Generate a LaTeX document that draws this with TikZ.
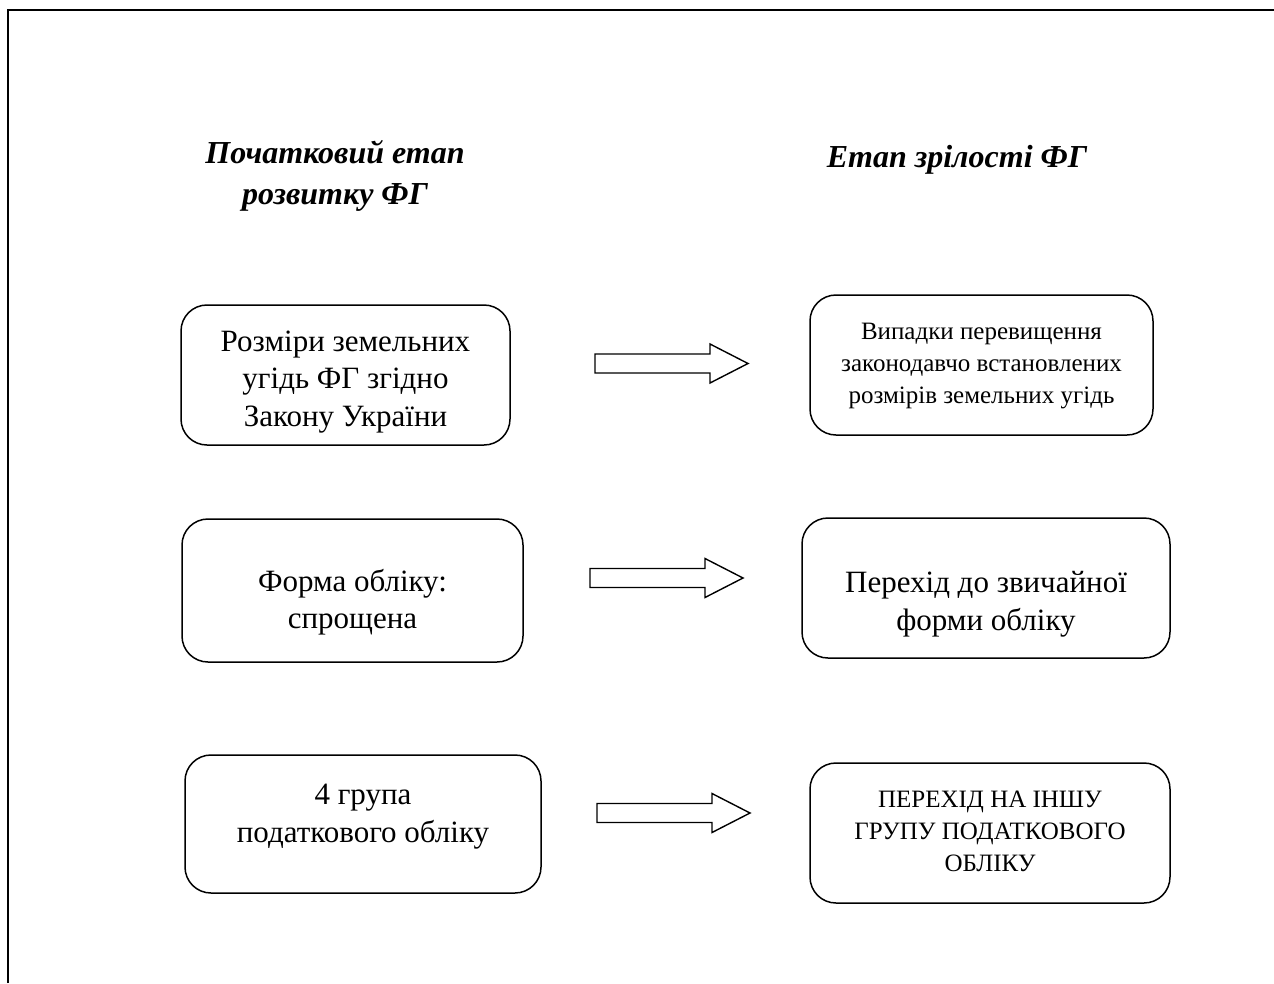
\documentclass[tikz,border=0pt]{standalone}
\usepackage{fontspec}
\setmainfont{Liberation Serif}
% text block set lower or higher inside its box
\newcommand{\boxtext}[2]{\raisebox{-#1}[\height][\depth]{\begin{tabular}{@{}c@{}}#2\end{tabular}}}
\begin{document}
\begin{tikzpicture}[x=1pt,y=-1pt]

      \tikzset{stage/.style={draw, line width=1.5pt, rounded corners=26pt, inner sep=0pt},
               bigtext/.style={font=\fontsize{31}{37.5}\selectfont},
               smalltext/.style={font=\fontsize{25}{32}\selectfont},
               heading/.style={align=center, font=\fontsize{32}{41}\selectfont\bfseries\itshape},
               blockarrow/.style={draw, line width=1.4pt, fill=white}}
      \useasboundingbox (0,0) rectangle (1274,983);
%% Frame
      \draw[line width=2pt] (8,983) -- (8,10) -- (1274,10);
%% Headings
      \node[heading] (start) at (335,176) {Початковий етап\\розвитку ФГ};
      \node[heading] (mature) at (957,160) {Етап зрілості ФГ};
%% Stages
      \node[stage, bigtext, minimum width=329pt, minimum height=140pt] (land) at (345.5,375) {\boxtext{6pt}{Розміри земельних\\угідь ФГ згідно\\Закону України}};
      \node[stage, smalltext, minimum width=343pt, minimum height=140pt] (excess) at (981.5,365) {\boxtext{0pt}{Випадки перевищення\\законодавчо встановлених\\розмірів земельних угідь}};
      \node[stage, bigtext, minimum width=341pt, minimum height=143pt] (simple) at (352.5,590.5) {\boxtext{12pt}{Форма обліку:\\спрощена}};
      \node[stage, bigtext, minimum width=368pt, minimum height=140pt] (usual) at (986,588) {\boxtext{16pt}{Перехід до звичайної\\форми обліку}};
      \node[stage, bigtext, minimum width=356pt, minimum height=138pt] (group) at (363,824) {\boxtext{-8pt}{4 група\\податкового обліку}};
      \node[stage, smalltext, minimum width=360pt, minimum height=140pt] (other) at (990,833) {\boxtext{0pt}{ПЕРЕХІД НА ІНШУ\\ГРУПУ ПОДАТКОВОГО\\ОБЛІКУ}};
%Arrows
      \foreach \x/\y in {595/363.5, 590/578, 597/813}
        \draw[blockarrow] (\x,\y-9.5) -- ++(115,0) -- ++(0,-10) -- ++(38,19.5) -- ++(-38,19.5) -- ++(0,-10) -- ++(-115,0) -- cycle;

\end{tikzpicture}
\end{document}
